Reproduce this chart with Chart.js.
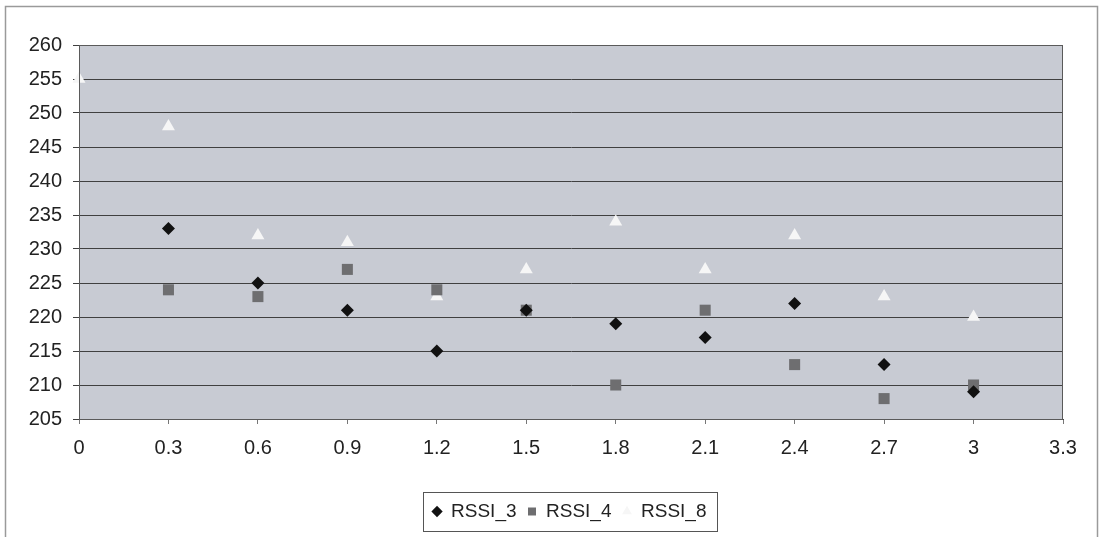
<!DOCTYPE html>
<html>
<head>
<meta charset="utf-8">
<script src="https://cdn.jsdelivr.net/npm/chart.js@4.4.1/dist/chart.umd.min.js"></script>
<style>
  html, body { margin: 0; padding: 0; background: #ffffff; }
  #wrap { width: 1104px; height: 537px; position: relative; }
</style>
</head>
<body>
<div id="wrap"><canvas id="c" width="1104" height="537"></canvas></div>
<script>
// ---- data ----
const xValues = [0.3, 0.6, 0.9, 1.2, 1.5, 1.8, 2.1, 2.4, 2.7, 3.0];
const rssi3 = [233, 225, 221, 215, 221, 219, 217, 222, 213, 209];
const rssi4 = [224, 223, 227, 224, 221, 210, 221, 213, 208, 210];
const xValues8 = [0, 0.3, 0.6, 0.9, 1.2, 1.5, 1.8, 2.1, 2.4, 2.7, 3.0];
const rssi8 = [255, 248, 232, 231, 223, 227, 234, 227, 232, 223, 220];
const xTickValues = [0, 0.3, 0.6, 0.9, 1.2, 1.5, 1.8, 2.1, 2.4, 2.7, 3, 3.3];
const xTickLabels = ['0', '0.3', '0.6', '0.9', '1.2', '1.5', '1.8', '2.1', '2.4', '2.7', '3', '3.3'];
const yTickValues = [205, 210, 215, 220, 225, 230, 235, 240, 245, 250, 255, 260];
const seriesNames = ['RSSI_3', 'RSSI_4', 'RSSI_8'];

const toPoints = (xs, ys) => xs.map((x, i) => ({ x: x, y: ys[i] }));

const bgPlugin = {
  id: 'bgPlugin',
  afterLayout(chart) {
    // the original legend sits a little right of the plot centre
    const lg = chart.legend;
    if (lg) { lg.left += 38; lg.right += 38; }
  },
  beforeDraw(chart) {
    const { ctx, chartArea: a } = chart;
    ctx.save();
    ctx.fillStyle = '#c8cbd3';
    ctx.fillRect(a.left, a.top, a.right - a.left, a.bottom - a.top);
    ctx.restore();
  },
  afterDatasetsDraw(chart) {
    const { ctx, chartArea: a } = chart;
    ctx.save();
    ctx.strokeStyle = '#5a5a5a';
    ctx.lineWidth = 1;
    ctx.strokeRect(a.left + 0.5, a.top + 0.5, a.right - a.left - 1, a.bottom - a.top);
    ctx.restore();
  },
  afterDraw(chart) {
    const { ctx } = chart;
    ctx.save();
    // outer chart frame
    ctx.strokeStyle = '#9a9a9a';
    ctx.lineWidth = 1.5;
    ctx.strokeRect(5.5, 6.5, 1092, 600);
    // legend frame
    const lg = chart.legend;
    if (lg && lg.legendHitBoxes && lg.legendHitBoxes.length) {
      const hb = lg.legendHitBoxes;
      let l = Infinity, r = -Infinity, t = Infinity, b = -Infinity;
      hb.forEach(h => {
        l = Math.min(l, h.left); r = Math.max(r, h.left + h.width);
        t = Math.min(t, h.top); b = Math.max(b, h.top + h.height);
      });
      ctx.strokeStyle = '#555555';
      ctx.lineWidth = 1;
      ctx.strokeRect(Math.round(l - 10) + 0.5, Math.round(t - 10) + 0.5, Math.round(r - l + 20), Math.round(b - t + 20));
    }
    ctx.restore();
  }
};

new Chart(document.getElementById('c'), {
  type: 'scatter',
  data: {
    datasets: [
      {
        label: seriesNames[0],
        data: toPoints(xValues, rssi3),
        pointStyle: 'rectRot',
        pointRadius: 6.5,
        backgroundColor: '#111111',
        borderColor: '#111111',
        borderWidth: 0,
        order: 1
      },
      {
        label: seriesNames[1],
        data: toPoints(xValues, rssi4),
        pointStyle: 'rect',
        pointRadius: 7.8,
        backgroundColor: '#6e6e70',
        borderColor: '#6e6e70',
        borderWidth: 0,
        order: 2
      },
      {
        label: seriesNames[2],
        data: toPoints(xValues8, rssi8),
        pointStyle: 'triangle',
        pointRadius: 7.5,
        backgroundColor: '#f6f6f6',
        borderColor: '#f6f6f6',
        borderWidth: 0,
        clip: false,
        order: 3
      }
    ]
  },
  options: {
    responsive: false,
    animation: false,
    layout: { padding: { left: 0, right: 41, top: 45, bottom: 6 } },
    plugins: {
      tooltip: { enabled: false },
      legend: {
        display: true,
        position: 'bottom',
        align: 'center',
        labels: {
          usePointStyle: true,
          boxWidth: 9,
          boxHeight: 8,
          padding: 11,
          color: '#222222',
          font: { family: '"Liberation Sans", Arial, sans-serif', size: 19 }
        }
      }
    },
    scales: {
      x: {
        type: 'linear',
        min: 0,
        max: 3.3,
        afterBuildTicks(scale) { scale.ticks = xTickValues.map(v => ({ value: v })); },
        afterFit(scale) { scale.height = 72; },
        ticks: {
          color: '#222222',
          padding: 12,
          font: { family: '"Liberation Sans", Arial, sans-serif', size: 20 },
          callback(value, index) { return xTickLabels[index]; }
        },
        grid: { display: true, drawOnChartArea: false, drawTicks: true, tickLength: 5, color: '#777777' },
        border: { display: true, color: '#444444', width: 1 }
      },
      y: {
        type: 'linear',
        min: 205,
        max: 260,
        afterBuildTicks(scale) { scale.ticks = yTickValues.map(v => ({ value: v })); },
        afterFit(scale) { scale.width = 79; },
        ticks: {
          color: '#222222',
          padding: 11,
          font: { family: '"Liberation Sans", Arial, sans-serif', size: 20 }
        },
        grid: { display: true, drawOnChartArea: true, drawTicks: true, tickLength: 6, color: '#404040', lineWidth: 1 },
        border: { display: true, color: '#444444', width: 1 }
      }
    }
  },
  plugins: [bgPlugin]
});
</script>
</body>
</html>
